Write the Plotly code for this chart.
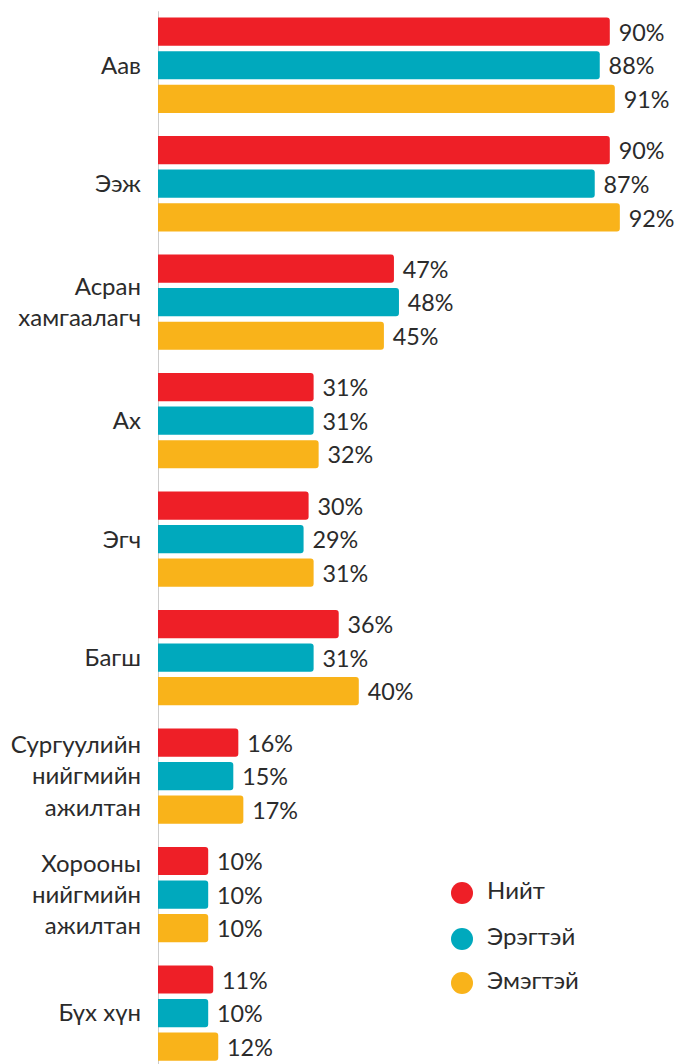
import plotly.graph_objects as go

# Categories (top to bottom) and series values, in percent
categories = [
    "Аав",
    "Ээж",
    "Асран<br>хамгаалагч",
    "Ах",
    "Эгч",
    "Багш",
    "Сургуулийн<br>нийгмийн<br>ажилтан",
    "Хорооны<br>нийгмийн<br>ажилтан",
    "Бүх хүн",
]
series_names = ["Нийт", "Эрэгтэй", "Эмэгтэй"]
total = [90, 90, 47, 31, 30, 36, 16, 10, 11]
male = [88, 87, 48, 31, 29, 31, 15, 10, 10]
female = [91, 92, 45, 32, 31, 40, 17, 10, 12]

colors = ["#EE1F27", "#00A9BD", "#F9B31A"]
font_family = "Lato, 'Open Sans', sans-serif"
text_color = "#2b2b2b"
fsize = 24

W, H = 675, 1064
M_L, M_R, M_T, M_B = 158, 15, 6, 0

fig = go.Figure()

for name, vals, col in zip(series_names, [total, male, female], colors):
    fig.add_trace(go.Bar(
        y=categories,
        x=vals,
        name=name,
        orientation="h",
        marker=dict(color=col, cornerradius=3, line=dict(width=0)),
        texttemplate="\u2005%{x}%",
        textposition="outside",
        textfont=dict(size=fsize, color=text_color, family=font_family),
        cliponaxis=False,
        showlegend=False,
    ))

# custom legend drawn on an overlay axis measured in pixels
legend_y = [893, 939, 983]
fig.add_trace(go.Scatter(
    x=[462] * 3, y=legend_y,
    mode="markers",
    marker=dict(size=22, color=colors),
    xaxis="x2", yaxis="y2", showlegend=False, hoverinfo="skip",
))
fig.add_trace(go.Scatter(
    x=[487] * 3, y=legend_y,
    mode="text",
    text=series_names,
    textposition="middle right",
    textfont=dict(size=fsize, color=text_color, family=font_family),
    xaxis="x2", yaxis="y2", showlegend=False, hoverinfo="skip",
))

fig.update_layout(
    width=W, height=H,
    margin=dict(l=M_L, r=M_R, t=M_T, b=M_B, autoexpand=False),
    plot_bgcolor="white",
    paper_bgcolor="white",
    barmode="group",
    bargap=0.15,
    bargroupgap=0.16,
    font=dict(family=font_family, color=text_color, size=fsize),
    xaxis=dict(
        range=[0, 100], visible=False, fixedrange=True, automargin=False,
    ),
    yaxis=dict(
        range=[8.43, -0.5],
        showgrid=False,
        showline=False,
        ticks="",
        ticklabelstandoff=16,
        tickfont=dict(size=fsize, color=text_color, family=font_family),
        fixedrange=True,
        automargin=False,
    ),
    xaxis2=dict(
        overlaying="x", range=[M_L, W - M_R], visible=False, fixedrange=True,
    ),
    yaxis2=dict(
        overlaying="y", range=[H - M_B, M_T], visible=False, fixedrange=True,
    ),
    shapes=[dict(
        type="line", xref="x", yref="paper",
        x0=0, x1=0, y0=0, y1=0.995,
        line=dict(color="#cccccc", width=2),
        layer="below",
    )],
)

# the page body has a default 8px margin; remove it so the chart sits at 0,0
fig.write_html(
    "out.html",
    config={"displayModeBar": False},
    post_script="document.body.style.margin='0';",
)
